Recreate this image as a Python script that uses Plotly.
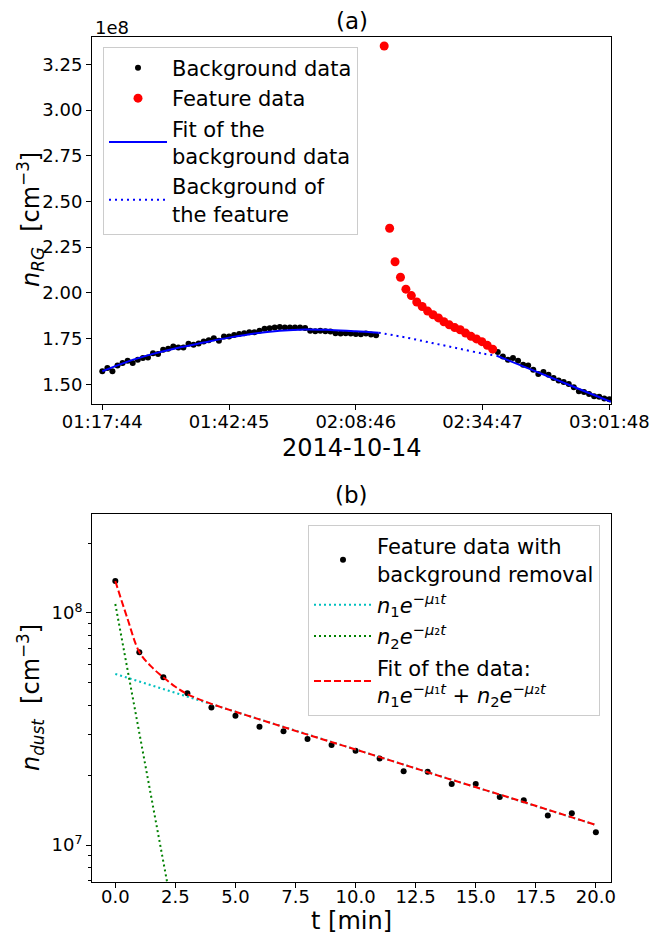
import plotly.graph_objects as go

# ---------------- panel (a) data (values in units of 1e8 cm^-3) ----------------
time_labels = ["01:17:44", "01:42:45", "02:08:46", "02:34:47", "03:01:48"]
time_label_idx = [0, 25, 50, 75, 100]          # sample index of each tick label

bg_left_idx = list(range(0, 55))
bg_left = [1.571, 1.589, 1.571, 1.603, 1.616, 1.629, 1.616, 1.634, 1.643, 1.647,
           1.670, 1.665, 1.689, 1.694, 1.707, 1.701, 1.701, 1.721, 1.716, 1.723,
           1.734, 1.741, 1.752, 1.738, 1.761, 1.761, 1.770, 1.775, 1.779, 1.784,
           1.784, 1.792, 1.803, 1.806, 1.811, 1.813, 1.811, 1.811, 1.811, 1.811,
           1.808, 1.792, 1.790, 1.792, 1.790, 1.788, 1.779, 1.777, 1.779, 1.777,
           1.775, 1.774, 1.777, 1.772, 1.768]

bg_right_idx = list(range(78, 101))
bg_right = [1.676, 1.652, 1.634, 1.643, 1.629, 1.607, 1.603, 1.580, 1.556, 1.567,
            1.552, 1.534, 1.520, 1.513, 1.502, 1.484, 1.462, 1.457, 1.447, 1.435,
            1.431, 1.422, 1.418]

feature_start_idx = 55.6      # sample index where the feature starts
samples_per_min = 1.07        # samples per minute of feature time
feature_min = list(range(0, 21))
feature = [3.35, 2.353, 2.17, 2.085, 2.02, 1.985, 1.95, 1.925, 1.90, 1.88,
           1.863, 1.842, 1.825, 1.81, 1.798, 1.780, 1.762, 1.748, 1.733, 1.713, 1.692]

fit_left_idx = [0, 5, 10, 15, 20, 25, 30, 35, 40, 45, 50, 54.5]
fit_left = [1.571, 1.624, 1.666, 1.700, 1.728, 1.755, 1.778, 1.793, 1.800, 1.797, 1.790, 1.782]
fit_gap_idx = [54.5, 60, 65, 70, 75, 77.8]
fit_gap = [1.782, 1.755, 1.726, 1.697, 1.668, 1.656]
fit_right_idx = [77.8, 85, 90, 95, 100.3]
fit_right = [1.656, 1.576, 1.520, 1.463, 1.404]

# ---------------- panel (b) data ----------------
t_min = list(range(0, 21))
n_dust = [1.374e8, 6.77e7, 5.28e7, 4.51e7, 3.91e7, 3.61e7, 3.23e7, 3.09e7, 2.86e7, 2.70e7,
          2.55e7, 2.36e7, 2.08e7, 2.07e7, 1.83e7, 1.83e7, 1.61e7, 1.56e7, 1.34e7, 1.37e7, 1.135e7]
t_c1 = [0, 20]
c1 = [5.46e7, 1.22e7]
t_c2 = [0, 1, 2, 3]
c2 = [1.093e8, 3.05e7, 8.46e6, 2.35e6]
t_fit = [0, 0.5, 1, 1.5, 2, 2.5, 3, 4, 6, 8, 10, 12, 14, 16, 18, 20]
n_fit = [1.374e8, 9.5e7, 6.79e7, 5.87e7, 5.28e7, 4.81e7, 4.47e7, 4.06e7, 3.48e7, 2.99e7,
         2.58e7, 2.22e7, 1.91e7, 1.65e7, 1.42e7, 1.22e7]

FONT = "DejaVu Sans"
W, H = 654, 938
ML, MR = 92, 43
PW = W - ML - MR

def px_x(p):
    return (p - ML) / PW

def px_y(p):
    return 1 - p / H

feature_idx = [feature_start_idx + samples_per_min * m for m in feature_min]

fig = go.Figure()
# panel (a)
fig.add_trace(go.Scatter(x=bg_left_idx + bg_right_idx, y=bg_left + bg_right, mode="markers",
                         marker=dict(color="black", size=6), name="Background data",
                         xaxis="x", yaxis="y", legend="legend", legendgroup="a1"))
fig.add_trace(go.Scatter(x=feature_idx, y=feature, mode="markers",
                         marker=dict(color="#ff0000", size=9), name="Feature data",
                         xaxis="x", yaxis="y", legend="legend", legendgroup="a2"))
fig.add_trace(go.Scatter(x=fit_left_idx, y=fit_left, mode="lines", line=dict(color="#0000ff", width=2, shape="spline"),
                         name="Fit of the<br>background data", xaxis="x", yaxis="y", legend="legend", legendgroup="a3"))
fig.add_trace(go.Scatter(x=fit_right_idx, y=fit_right, mode="lines", line=dict(color="#0000ff", width=2, shape="spline"),
                         showlegend=False, xaxis="x", yaxis="y", legendgroup="a3"))
fig.add_trace(go.Scatter(x=fit_gap_idx, y=fit_gap, mode="lines", line=dict(color="#0000ff", width=2, dash="2px,4px", shape="spline"),
                         name="Background of<br>the feature", xaxis="x", yaxis="y", legend="legend", legendgroup="a4"))

# panel (b)
fig.add_trace(go.Scatter(x=t_min, y=n_dust, mode="markers", marker=dict(color="black", size=6),
                         name="Feature data with<br>background removal", xaxis="x2", yaxis="y2",
                         legend="legend2", legendgroup="b1"))
fig.add_trace(go.Scatter(x=t_c1, y=c1, mode="lines", line=dict(color="#00bfbf", width=2, dash="2px,3px"),
                         name="<i>n</i><sub>1</sub><i>e</i><sup>−<i>μ</i>₁<i>t</i></sup>", xaxis="x2", yaxis="y2",
                         legend="legend2", legendgroup="b2"))
fig.add_trace(go.Scatter(x=t_c2, y=c2, mode="lines", line=dict(color="#008000", width=2, dash="2px,3px"),
                         name="<i>n</i><sub>2</sub><i>e</i><sup>−<i>μ</i>₂<i>t</i></sup>", xaxis="x2", yaxis="y2",
                         legend="legend2", legendgroup="b3"))
fig.add_trace(go.Scatter(x=t_fit, y=n_fit, mode="lines", line=dict(color="#ff0000", width=2, dash="7px,3px", shape="spline"),
                         name="Fit of the data:<br><i>n</i><sub>1</sub><i>e</i><sup>−<i>μ</i>₁<i>t</i></sup> + <i>n</i><sub>2</sub><i>e</i><sup>−<i>μ</i>₂<i>t</i></sup>",
                         xaxis="x2", yaxis="y2", legend="legend2", legendgroup="b4"))

axis_common = dict(showline=True, mirror=True, linecolor="black", linewidth=1, ticks="outside",
                   ticklen=5, tickwidth=1, tickcolor="black", showgrid=False, zeroline=False,
                   tickfont=dict(family=FONT, size=18, color="black"))

minor_vals = [k * 10 ** e for e in (6, 7, 8) for k in range(2, 10)]

fig.update_layout(
    width=W, height=H, margin=dict(l=ML, r=MR, t=0, b=0),
    paper_bgcolor="white", plot_bgcolor="white",
    font=dict(family=FONT, size=18, color="black"),
    xaxis=dict(domain=[0, 1], anchor="y", range=[-2.03, 100.33], tickmode="array",
               tickvals=time_label_idx, ticktext=time_labels, ticklabelstandoff=-4, **axis_common),
    yaxis=dict(domain=[px_y(404), px_y(36.7)], anchor="x", range=[1.392, 3.401], tickmode="array",
               tickvals=[1.50, 1.75, 2.00, 2.25, 2.50, 2.75, 3.00, 3.25],
               ticktext=["1.50", "1.75", "2.00", "2.25", "2.50", "2.75", "3.00", "3.25"], **axis_common),
    xaxis2=dict(domain=[0, 1], anchor="y2", range=[-0.97, 20.63], tickmode="array",
                tickvals=[0, 2.5, 5, 7.5, 10, 12.5, 15, 17.5, 20],
                ticktext=["0.0", "2.5", "5.0", "7.5", "10.0", "12.5", "15.0", "17.5", "20.0"],
                ticklabelstandoff=-7, **axis_common),
    yaxis2=dict(domain=[px_y(882), px_y(514)], anchor="x2", type="log", range=[6.8405, 8.4267],
                tickmode="array", tickvals=[1e7, 1e8], ticktext=["10<sup>7</sup>", "10<sup>8</sup>"],
                minor=dict(ticks="outside", ticklen=3, tickcolor="black", tickvals=minor_vals),
                **axis_common),
    legend=dict(x=px_x(103), y=px_y(46.7), xanchor="left", yanchor="top",
                bgcolor="rgba(255,255,255,0.8)", bordercolor="#cccccc", borderwidth=1,
                font=dict(family=FONT, size=21, color="black"), tracegroupgap=0,
                itemwidth=58, valign="middle"),
    legend2=dict(x=px_x(308), y=px_y(525), xanchor="left", yanchor="top",
                 bgcolor="rgba(255,255,255,0.8)", bordercolor="#cccccc", borderwidth=1,
                 font=dict(family=FONT, size=21, color="black"), tracegroupgap=1,
                 itemwidth=58, valign="middle"),
    showlegend=True,
)

ann_font = dict(family=FONT, color="black")
annotations = [
    dict(text="(a)", x=0.5, y=px_y(21), font=dict(size=23, **ann_font)),
    dict(text="1e8", x=px_x(93), y=px_y(27), xanchor="left", font=dict(size=18, **ann_font)),
    dict(text="2014-10-14", x=0.5, y=px_y(448), font=dict(size=24, **ann_font)),
    dict(text="<i>n</i><sub><i>RG</i></sub>\u00a0\u00a0[cm<sup>−3</sup>]", x=px_x(30), y=px_y(220),
         textangle=-90, font=dict(size=24, **ann_font)),
    dict(text="(b)", x=0.5, y=px_y(495), font=dict(size=23, **ann_font)),
    dict(text="<i>n</i><sub><i>dust</i></sub>\u00a0\u00a0[cm<sup>−3</sup>]", x=px_x(30), y=px_y(698),
         textangle=-90, font=dict(size=24, **ann_font)),
    dict(text="t [min]", x=0.5, y=px_y(921), font=dict(size=24, **ann_font)),
]
for a in annotations:
    a.setdefault("xanchor", "center")
    a.update(xref="paper", yref="paper", yanchor="middle", showarrow=False)
fig.update_layout(annotations=annotations)

fig.write_html("out.html")
